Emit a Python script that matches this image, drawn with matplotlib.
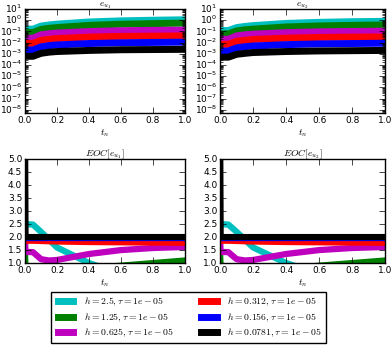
import matplotlib
matplotlib.use("Agg")
import matplotlib.pyplot as plt
import numpy as np

plt.style.use("classic")
plt.rcParams.update({
    "font.size": 6.5, "mathtext.fontset": "cm",
    "figure.facecolor": "white", "savefig.facecolor": "white",
})

h_values = ["2.5", "1.25", "0.625", "0.312", "0.156", "0.0781"]
tau = "1e-05"
colors = ["c", "g", "m", "r", "b", "k"]

t = [0.0, 0.003, 0.05, 0.1, 0.15, 0.2, 0.4, 0.6, 0.8, 1.0]

# errors e_u1 per mesh size
err_u1 = [
    [0.16, 0.16, 0.16, 0.30, 0.38, 0.45, 0.70, 0.88, 1.00, 1.10],
    [0.08, 0.08, 0.08, 0.15, 0.19, 0.22, 0.35, 0.44, 0.50, 0.55],
    [0.025, 0.025, 0.025, 0.050, 0.062, 0.072, 0.098, 0.115, 0.125, 0.13],
    [0.0085, 0.0085, 0.0085, 0.016, 0.020, 0.023, 0.031, 0.036, 0.038, 0.040],
    [0.0022, 0.0022, 0.0022, 0.0042, 0.0054, 0.0062, 0.0083, 0.0096, 0.0104, 0.011],
    [0.0006, 0.0006, 0.0006, 0.0011, 0.0014, 0.0016, 0.0020, 0.0023, 0.0024, 0.0025],
]
err_u2 = [
    [0.12, 0.12, 0.12, 0.22, 0.28, 0.33, 0.52, 0.65, 0.74, 0.80],
    [0.06, 0.06, 0.06, 0.11, 0.14, 0.16, 0.25, 0.31, 0.35, 0.38],
    [0.020, 0.020, 0.020, 0.040, 0.050, 0.057, 0.078, 0.092, 0.100, 0.105],
    [0.0070, 0.0070, 0.0070, 0.013, 0.016, 0.019, 0.025, 0.029, 0.031, 0.032],
    [0.0018, 0.0018, 0.0018, 0.0034, 0.0043, 0.0050, 0.0066, 0.0077, 0.0083, 0.0088],
    [0.0005, 0.0005, 0.0005, 0.0009, 0.0011, 0.0013, 0.0016, 0.0018, 0.0019, 0.0020],
]

# experimental order of convergence
eoc = [
    [2.5, 2.5, 2.48, 2.2, 1.9, 1.6, 1.0, 0.6, 0.3, 0.1],
    [1.3, 0.9, 0.85, 0.8, 0.75, 0.75, 0.8, 0.9, 1.0, 1.1],
    [1.9, 1.43, 1.42, 1.15, 1.10, 1.12, 1.35, 1.50, 1.58, 1.62],
    [1.86, 1.86, 1.86, 1.85, 1.84, 1.83, 1.81, 1.80, 1.79, 1.78],
    [1.95, 1.95, 1.95, 1.95, 1.95, 1.95, 1.95, 1.95, 1.95, 1.95],
    [6.0, 2.0, 2.0, 2.0, 2.0, 2.0, 2.0, 2.0, 2.0, 2.0],
]

fig = plt.figure(figsize=(3.91, 3.48), dpi=100)
ax_e1 = fig.add_axes([0.064, 0.675, 0.409, 0.299])
ax_e2 = fig.add_axes([0.563, 0.675, 0.422, 0.299])
ax_c1 = fig.add_axes([0.064, 0.244, 0.409, 0.299])
ax_c2 = fig.add_axes([0.563, 0.244, 0.422, 0.299])

for ax, errs, name in [(ax_e1, err_u1, "u_1"), (ax_e2, err_u2, "u_2")]:
    for h, c, e in zip(h_values, colors, errs):
        ax.semilogy(t, e, color=c, lw=5, label=r"$h=%s, \tau=%s$" % (h, tau))
    ax.set_ylim(10 ** -8.3, 10 ** 1)
    ax.set_yticks([10.0 ** k for k in range(-8, 2)])
    ax.set_title(r"$e_{%s}$" % name, fontsize=7, pad=2)

for ax, name in [(ax_c1, "u_1"), (ax_c2, "u_2")]:
    for c, v in zip(colors, eoc):
        ax.plot(t, v, color=c, lw=4.5)
    ax.set_ylim(1.0, 5.0)
    ax.set_yticks(np.arange(1.0, 5.01, 0.5))
    ax.set_title(r"$EOC[e_{%s}]$" % name, fontsize=7, pad=2)

for ax in [ax_e1, ax_e2, ax_c1, ax_c2]:
    ax.set_xlim(0, 1)
    ax.set_xticks(np.arange(0, 1.01, 0.2))
    ax.set_xlabel(r"$t_n$", fontsize=7, labelpad=2)
    ax.tick_params(labelsize=6.5, pad=2)

fig.legend(loc="lower center", bbox_to_anchor=(0.482, 0.0), ncol=2,
           fontsize=7, handlelength=2.2, columnspacing=2.5, labelspacing=0.3,
           borderpad=0.4, handles=ax_e1.get_lines())

fig.savefig("out.png", dpi=100)
